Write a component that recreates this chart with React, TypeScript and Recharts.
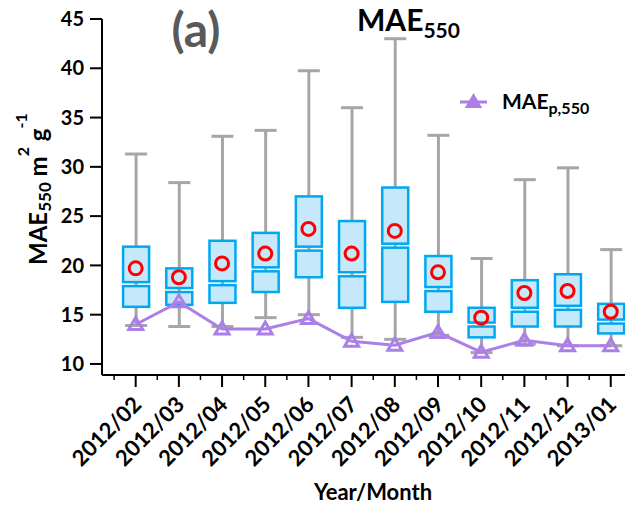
import React from 'react';
import {
  ComposedChart, Bar, Line, XAxis, YAxis, Legend,
} from 'recharts';

const months = [
  '2012/02', '2012/03', '2012/04', '2012/05', '2012/06', '2012/07',
  '2012/08', '2012/09', '2012/10', '2012/11', '2012/12', '2013/01',
];
const whiskerLow = [13.9, 13.8, 13.8, 14.7, 15.0, 12.7, 12.5, 12.9, 11.15, 12.0, 11.85, 11.85];
const q1 = [15.8, 16.0, 16.2, 17.3, 18.8, 15.7, 16.3, 15.3, 12.7, 13.8, 13.8, 13.1];
const medians = [18.1, 17.5, 18.2, 19.6, 21.7, 19.1, 22.0, 17.6, 14.0, 15.5, 15.7, 14.3];
const q3 = [21.9, 19.7, 22.5, 23.3, 27.0, 24.5, 27.9, 20.95, 15.7, 18.5, 19.1, 16.1];
const whiskerHigh = [31.3, 28.4, 33.1, 33.7, 39.75, 36.0, 43.0, 33.2, 20.7, 28.7, 29.9, 21.6];
const means = [19.7, 18.8, 20.2, 21.2, 23.7, 21.2, 23.5, 19.3, 14.7, 17.2, 17.4, 15.3];
const maeP = [14.0, 16.3, 13.55, 13.55, 14.6, 12.3, 11.9, 13.2, 11.2, 12.4, 11.85, 11.85];

const yTicks = [10, 15, 20, 25, 30, 35, 40, 45];
const xTicks = [-0.5, 0, 0.5, 1, 1.5, 2, 2.5, 3, 3.5, 4, 4.5, 5, 5.5, 6, 6.5, 7, 7.5, 8, 8.5, 9, 9.5, 10, 10.5, 11];

const data = months.map((m, i) => ({
  x: i,
  month: m,
  range: [whiskerLow[i], whiskerHigh[i]],
  q1: q1[i],
  median: medians[i],
  q3: q3[i],
  mean: means[i],
  maeP: maeP[i],
}));

const FONT = 'Lato, "Open Sans", sans-serif';
const PURPLE = '#ab7fe8';
const GREY = '#a6a6a6';
const BOX_STROKE = '#00a8f0';
const BOX_FILL = '#c6e8fb';

function BoxShape(props: any) {
  const { x, y, width, height, payload } = props;
  const top = Math.min(y, y + height);
  const bot = Math.max(y, y + height);
  const [lo, hi] = payload.range;
  const py = (v: number) => bot - ((v - lo) / (hi - lo)) * (bot - top);
  const cx = x + width / 2;
  const half = 13;
  const cap = 11;
  const yMed = py(payload.median);
  const yQ3 = py(payload.q3);
  const yQ1 = py(payload.q1);
  return (
    <g>
      <line x1={cx} x2={cx} y1={py(hi)} y2={py(lo)} stroke={GREY} strokeWidth={3} />
      <line x1={cx - cap} x2={cx + cap} y1={py(hi)} y2={py(hi)} stroke={GREY} strokeWidth={3} />
      <line x1={cx - cap} x2={cx + cap} y1={py(lo)} y2={py(lo)} stroke={GREY} strokeWidth={3} />
      <rect x={cx - half} y={yQ3} width={half * 2} height={Math.max(yMed - 2 - yQ3, 0)}
        fill={BOX_FILL} stroke={BOX_STROKE} strokeWidth={2.5} />
      <rect x={cx - half} y={yMed + 2} width={half * 2} height={Math.max(yQ1 - yMed - 2, 0)}
        fill={BOX_FILL} stroke={BOX_STROKE} strokeWidth={2.5} />
    </g>
  );
}

function TriangleDot(props: any) {
  const { cx, cy } = props;
  if (cx == null || cy == null) return null;
  return (
    <path d={`M${cx},${cy - 7} L${cx + 7},${cy + 5} L${cx - 7},${cy + 5} Z`}
      fill="none" stroke={PURPLE} strokeWidth={3} />
  );
}

function XTick(props: any) {
  const { x, y, payload } = props;
  const v = payload.value;
  if (!Number.isInteger(v)) {
    return <line x1={x} x2={x} y1={y} y2={y + 5} stroke="#000" strokeWidth={1.5} />;
  }
  return (
    <g>
      <line x1={x} x2={x} y1={y} y2={y + 12} stroke="#000" strokeWidth={2} />
      <text transform={`translate(${x + 7},${y + 31}) rotate(-45)`} textAnchor="end"
        fontFamily={FONT} fontWeight="bold" fontSize={22} fill="#000">
        {months[v]}
      </text>
    </g>
  );
}

function LegendContent() {
  return (
    <svg width={160} height={32} style={{ display: 'block' }}>
      <line x1={5} x2={32} y1={15} y2={15} stroke={PURPLE} strokeWidth={3} />
      <path d="M18.5,8 L25.5,20 L11.5,20 Z" fill={PURPLE} stroke={PURPLE} strokeWidth={2} />
      <text x={47} y={22} fontFamily={FONT} fontWeight="bold" fontSize={21} fill="#000">
        MAE<tspan fontSize={16} dy={5}>p,550</tspan>
      </text>
    </svg>
  );
}

export default function App() {
  return (
    <div style={{ width: 625, height: 508, background: '#fff', overflow: 'hidden' }}>
      <style>{'html, body { margin: 0; padding: 0; overflow: hidden; }'}</style>
      <ComposedChart width={625} height={508} data={data}
        margin={{ top: 19, right: 0, bottom: 0, left: 0 }}>
        <XAxis dataKey="x" type="number" domain={[-0.78, 11.33]} allowDataOverflow
          ticks={xTicks} interval={0} tickSize={0} tickMargin={0} tickLine={false}
          tick={<XTick />} height={133} axisLine={{ stroke: '#000', strokeWidth: 2 }} />
        <YAxis type="number" domain={[8.88, 45]} allowDataOverflow ticks={yTicks} interval={0}
          width={102} tickSize={12} tickMargin={6}
          axisLine={{ stroke: '#000', strokeWidth: 2 }} tickLine={{ stroke: '#000', strokeWidth: 2 }}
          tick={{ fontFamily: FONT, fontWeight: 'bold', fontSize: 20, fill: '#000' }} />
        <Legend layout="vertical" align="center" verticalAlign="middle"
          wrapperStyle={{ position: 'absolute', left: 455, top: 87, width: 160 }}
          content={<LegendContent />} />
        <Bar dataKey="range" barSize={28} shape={<BoxShape />} isAnimationActive={false}
          legendType="none" />
        <Line dataKey="maeP" name="MAEp,550" stroke={PURPLE} strokeWidth={3}
          dot={<TriangleDot />} activeDot={false} isAnimationActive={false} />
        <Line dataKey="mean" stroke="none" legendType="none"
          dot={{ r: 6.5, stroke: '#ff0000', strokeWidth: 3, fill: 'none' }}
          activeDot={false} isAnimationActive={false} />
        <text x={196} y={47} textAnchor="middle" fontFamily={FONT} fontWeight="bold"
          fontSize={48} fill="#595959">(a)</text>
        <text x={357} y={31} fontFamily={FONT} fontWeight="bold" fontSize={30} fill="#000">
          MAE<tspan fontSize={21} dy={7}>550</tspan>
        </text>
        <text transform="translate(47,265) rotate(-90)" fontFamily={FONT} fontWeight="bold"
          fontSize={24} fill="#000">
          MAE<tspan fontSize={17} dy={4}>550</tspan>
          <tspan dy={-4}> m</tspan>
          <tspan fontSize={16} dy={-18}>2</tspan>
          <tspan dy={18}> g</tspan>
          <tspan fontSize={16} dy={-20}>-1</tspan>
        </text>
        <text x={373} y={500} textAnchor="middle" fontFamily={FONT} fontWeight="bold"
          fontSize={22} fill="#000">Year/Month</text>
      </ComposedChart>
    </div>
  );
}
